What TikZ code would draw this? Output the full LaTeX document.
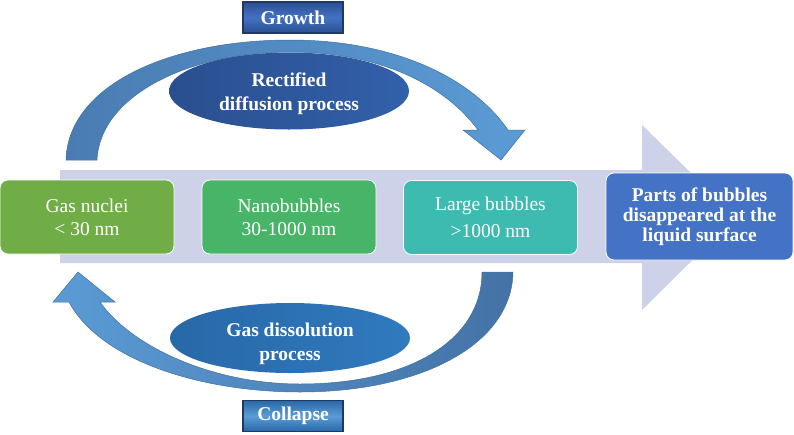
\documentclass[tikz,border=0pt]{standalone}
\usepackage{fontspec}
\setmainfont{Liberation Serif}
\usetikzlibrary{shapes.geometric}
\definecolor{bgarrow}{RGB}{205,210,232}
\definecolor{cgas}{RGB}{112,173,71}
\definecolor{cnano}{RGB}{72,180,104}
\definecolor{clarge}{RGB}{62,187,177}
\definecolor{cparts}{RGB}{68,114,196}
\definecolor{arrA}{RGB}{74,124,178}
\definecolor{arrB}{RGB}{91,155,213}
\definecolor{arrC}{RGB}{68,114,166}
\definecolor{arrEdge}{RGB}{65,113,156}
\definecolor{ellA1}{RGB}{42,79,143}
\definecolor{ellA2}{RGB}{50,96,170}
\definecolor{ellB1}{RGB}{40,104,168}
\definecolor{ellB2}{RGB}{48,122,190}
\definecolor{navy}{RGB}{31,56,100}
\begin{document}
\begin{tikzpicture}[x=1pt,y=-1pt]
\tikzset{
  stage/.style={rounded corners=8pt, draw=white, line width=0.8pt,
    minimum width=174pt, minimum height=74pt, text=white, align=center,
    inner sep=0pt, font=\fontsize{19.5}{23}\selectfont},
  procell/.style={ellipse, inner sep=0pt},
  proctext/.style={text=white, align=center, inner sep=0pt,
    font=\bfseries\fontsize{19.5}{24}\selectfont},
  tagbox/.style={draw=navy, line width=1.2pt, minimum width=100pt,
    minimum height=31pt, inner sep=0pt, text=white,
    font=\bfseries\fontsize{19.5}{22}\selectfont},
  blockarrow/.style={draw=arrEdge, line width=0.5pt}
}
\useasboundingbox (0,0) rectangle (794,434);

% background flow arrow
\fill[bgarrow] (60,170) -- (642,170) -- (642,125) -- (736,217) -- (642,310)
  -- (642,263) -- (60,263) -- cycle;

% stage boxes
\node[stage, fill=cgas] (gas) at (87,217) {Gas nuclei\\< 30 nm};
\node[stage, fill=cnano] (nano) at (289,217) {Nanobubbles\\30-1000 nm};
\node[stage, fill=clarge] (large) at (490.5,217.5) {Large bubbles\\[4pt]>1000 nm};
\node[stage, fill=cparts, minimum width=187pt, minimum height=87pt,
  font=\bfseries\fontsize{19.5}{20}\selectfont] (parts) at (699.5,216.5)
  {Parts of bubbles\\disappeared at the\\liquid surface};

% growth curved arrow
\shade[blockarrow, left color=arrA, right color=arrB]
  (66,160) .. controls (68,85) and (170,40) .. (290,40)
  .. controls (390,40) and (470,75) .. (508,130)
  -- (525,130) -- (501,160) -- (463,130) -- (478,130)
  .. controls (445,85) and (380,52) .. (290,52)
  .. controls (190,52) and (100,95) .. (97,160) -- cycle;

% collapse curved arrow
\shade[blockarrow, left color=arrB, right color=arrC]
  (513,272) .. controls (512,345) and (420,392) .. (300,392)
  .. controls (200,392) and (100,360) .. (69,302)
  -- (53,302) -- (78,272) -- (115,302) -- (100,302)
  .. controls (130,345) and (210,384) .. (300,384)
  .. controls (410,384) and (482,340) .. (482,272) -- cycle;

% process ellipses
\node[procell, minimum width=240pt, minimum height=77pt,
  left color=ellA1, right color=ellA2] (rect) at (289,91) {};
\node[proctext] (recttext) at (289,93.5) {Rectified\\diffusion process};
\node[procell, minimum width=240pt, minimum height=70pt,
  left color=ellB1, right color=ellB2] (diss) at (290,338) {};
\node[proctext] (disstext) at (290,344) {Gas dissolution\\process};

% tag boxes
\node[tagbox, top color=ellA1, bottom color=ellA1, middle color=cparts]
  (growth) at (293,17.5) {Growth};
\node[tagbox, top color=ellB1, bottom color=ellB1, middle color=arrB]
  (collapse) at (293,416) {Collapse};
\end{tikzpicture}
\end{document}
